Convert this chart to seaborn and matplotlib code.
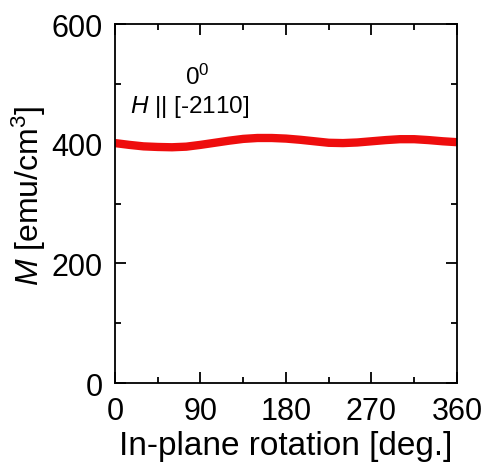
import numpy as np
import pandas as pd
import matplotlib
matplotlib.use("Agg")
import matplotlib.pyplot as plt
import seaborn as sns
from matplotlib.ticker import MultipleLocator

# In-plane rotation scan of magnetization
angle = [0, 15, 30, 45, 60, 75, 90, 105, 120, 135, 150, 165, 180,
         195, 210, 225, 240, 255, 270, 285, 300, 315, 330, 345, 360]
magnetization = [401, 398, 395.5, 394.5, 394, 395, 398, 401.5, 405, 408, 409.5, 409.5, 408.5,
                 406.5, 404, 401.5, 401, 402, 404, 406, 407.5, 407.5, 406, 404, 402.5]

x_ticks = [0, 90, 180, 270, 360]
y_ticks = [0, 200, 400, 600]

sns.set_theme(style="ticks")
plt.rcParams["font.family"] = ["Liberation Sans", "DejaVu Sans"]
plt.rcParams["mathtext.fontset"] = "custom"
plt.rcParams["mathtext.rm"] = "Liberation Sans"
plt.rcParams["mathtext.it"] = "Liberation Sans:italic"
plt.rcParams["text.color"] = "black"
plt.rcParams["axes.labelcolor"] = "black"

df = pd.DataFrame({"angle": angle, "M": magnetization})

fig = plt.figure(figsize=(4.84, 4.64), dpi=100)
ax = fig.add_axes([0.2376, 0.1724, 0.7066, 0.7737])

sns.lineplot(data=df, x="angle", y="M", ax=ax, color="#ee0d0d", linewidth=6,
             solid_capstyle="butt")

ax.set_xlim(0, 360)
ax.set_ylim(0, 600)
ax.set_xticks(x_ticks)
ax.set_yticks(y_ticks)
ax.xaxis.set_minor_locator(MultipleLocator(45))
ax.yaxis.set_minor_locator(MultipleLocator(100))
ax.tick_params(which="both", direction="in", top=True, right=True,
               colors="black", labelsize=22, width=1.3)
ax.tick_params(which="major", length=8)
ax.tick_params(which="minor", length=4)
ax.tick_params(axis="y", pad=9)
ax.tick_params(axis="x", pad=9)
for s in ax.spines.values():
    s.set_linewidth(1.3)
    s.set_color("black")

ax.set_xlabel("In-plane rotation [deg.]", fontsize=24, labelpad=3)
ax.set_ylabel(r"$M$ [emu/cm$^3$]", fontsize=23)
ax.yaxis.set_label_coords(-0.197, 0.525)

ax.text(0.24, 0.855, r"0$^0$", transform=ax.transAxes, fontsize=17.5,
        ha="center", va="center")
ax.text(0.044, 0.772, r"$H$ || [-2110]", transform=ax.transAxes, fontsize=17.5,
        ha="left", va="center")

fig.savefig("out.png", dpi=100)
